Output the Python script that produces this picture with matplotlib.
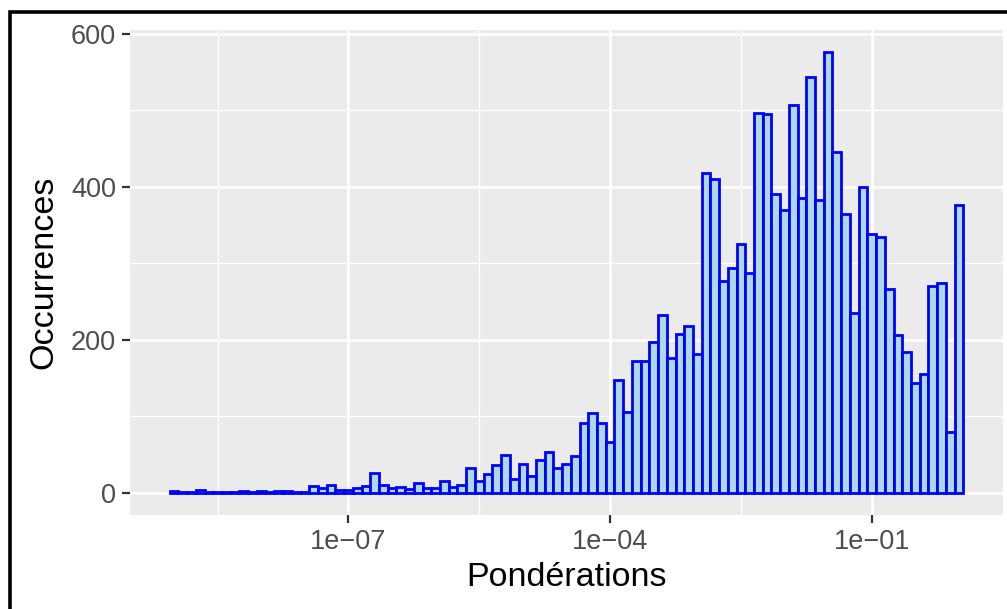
#!/usr/bin/env python3
"""Histogram of weights (log10 scale), ggplot-like look."""

import matplotlib

matplotlib.use("Agg")
import matplotlib.pyplot as plt
from matplotlib.patches import Rectangle
from matplotlib.ticker import FixedLocator
import numpy as np

# log10 bins of width 0.1, first bin centred on 1e-9, last on 1e0
bin_width = 0.1
first_center = -9.0
counts = [
    3, 1, 1, 4, 1, 1, 1, 1, 3, 1,
    3, 1, 3, 2, 1, 1, 9, 6, 10, 4,
    4, 7, 9, 26, 11, 6, 8, 5, 13, 6,
    7, 15, 8, 10, 33, 15, 25, 36, 50, 18,
    38, 22, 43, 53, 32, 38, 48, 92, 104, 92,
    67, 147, 106, 172, 173, 197, 233, 176, 208, 218,
    181, 418, 411, 277, 294, 326, 288, 497, 495, 391,
    370, 507, 386, 544, 383, 577, 446, 364, 235, 400,
    338, 335, 267, 206, 184, 144, 155, 271, 275, 80,
    377,
]

x_breaks = [-7, -4, -1]
x_labels = ["1e\u221207", "1e\u221204", "1e\u221201"]
x_minor = [-8.5, -5.5, -2.5]
y_breaks = [0, 200, 400, 600]
y_minor = [100, 300, 500]

x_title = "Pondérations"
y_title = "Occurrences"


def main() -> None:
    plt.rcParams["font.family"] = ["Liberation Sans", "DejaVu Sans"]

    counts_arr = np.asarray(counts, dtype=float)
    n = len(counts_arr)
    lo = first_center - bin_width / 2
    edges = lo + bin_width * np.arange(n + 1)
    centers = (edges[:-1] + edges[1:]) / 2

    W, H = 1007, 609
    fig = plt.figure(figsize=(W / 100, H / 100), dpi=100)
    ax = fig.add_axes([130 / W, 1 - 515 / H, (1003 - 130) / W, (515 - 29.5) / H])
    ax.set_facecolor("#EBEBEB")

    # grid (ggplot style)
    for v in x_minor:
        ax.axvline(v, color="white", lw=0.9, zorder=0.5)
    for v in y_minor:
        ax.axhline(v, color="white", lw=0.9, zorder=0.5)
    for v in x_breaks:
        ax.axvline(v, color="white", lw=1.9, zorder=0.6)
    for v in y_breaks:
        ax.axhline(v, color="white", lw=1.9, zorder=0.6)

    ax.hist(centers, bins=edges, weights=counts_arr, facecolor="#ADD8E6",
            edgecolor="#0000FF", linewidth=2.0, zorder=2)

    # expansion of 5% like ggplot
    xr = edges[-1] - edges[0]
    ax.set_xlim(edges[0] - 0.05 * xr, edges[-1] + 0.05 * xr)
    ymax = counts_arr.max()
    ax.set_ylim(-0.05 * ymax, ymax * 1.05)

    ax.xaxis.set_major_locator(FixedLocator(x_breaks))
    ax.set_xticklabels(x_labels)
    ax.yaxis.set_major_locator(FixedLocator(y_breaks))
    ax.set_yticklabels([str(v) for v in y_breaks])
    ax.tick_params(axis="both", length=6, width=1.6, color="#333333",
                   labelcolor="#4D4D4D", labelsize=19.5, pad=4)
    for s in ax.spines.values():
        s.set_visible(False)

    ax.set_xlabel(x_title, fontsize=24.5, color="black", labelpad=5)
    ax.set_ylabel(y_title, fontsize=24.5, color="black", labelpad=8)

    # black frame of the plot background (cropped at right / bottom)
    frame = Rectangle((9.5 / W, -0.05), 1.2, 1 - 11.5 / H + 0.05,
                      transform=fig.transFigure, fill=False,
                      edgecolor="black", linewidth=2.6, clip_on=False)
    fig.patches.append(frame)

    fig.savefig("out.png", dpi=100)
    plt.close(fig)


if __name__ == "__main__":
    main()
